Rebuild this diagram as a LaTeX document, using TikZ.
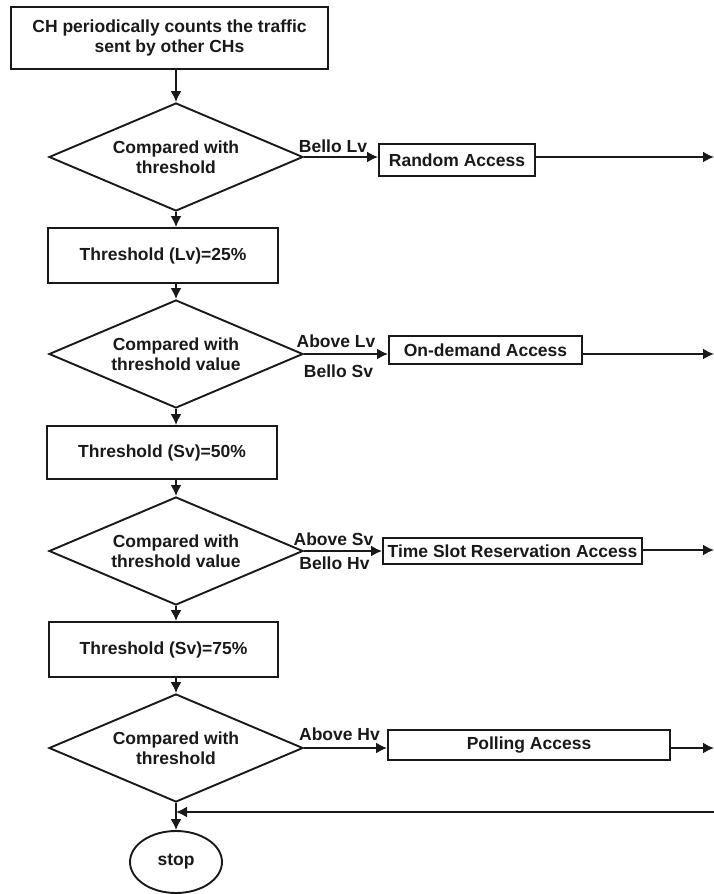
\documentclass[tikz,border=0pt]{standalone}
\usepackage{fontspec}
\setmainfont{Liberation Sans}
\usetikzlibrary{shapes.geometric,arrows.meta}
\begin{document}
\begin{tikzpicture}[x=1pt,y=-1pt,
  every node/.style={font=\bfseries\fontsize{17.5}{20.5}\selectfont, text=black!90},
  conn/.style={draw=black!90, line width=1.9pt},
  arr/.style={conn, -{Latex[length=11pt,width=11pt]}},
  box/.style={draw=black!90, line width=1.9pt, rectangle, inner sep=0pt, align=center},
  decide/.style={draw=black!90, line width=1.9pt, diamond, aspect=2.35,
    minimum width=254pt, minimum height=108pt, inner sep=0pt, align=center},
  term/.style={draw=black!90, line width=1.9pt, ellipse, inner sep=0pt,
    minimum width=92pt, minimum height=62pt},
  lbl/.style={anchor=base, inner sep=0pt}
]
\useasboundingbox (0,0) rectangle (714,894);

% main column
\node[box, minimum width=317pt, minimum height=62pt] (b1) at (169.5,38)
  {CH periodically counts the traffic\\sent by other CHs};
\node[decide] (d1) at (176,157) {Compared with\\threshold};
\node[box, minimum width=230pt, minimum height=55pt] (b2) at (163,255.5) {Threshold (Lv)=25\%};
\node[decide] (d2) at (176,354) {Compared with\\threshold value};
\node[box, minimum width=230pt, minimum height=53pt] (b3) at (162,452.5) {Threshold (Sv)=50\%};
\node[decide] (d3) at (176,551) {Compared with\\threshold value};
\node[box, minimum width=229pt, minimum height=55pt] (b4) at (163.5,649.5) {Threshold (Sv)=75\%};
\node[decide] (d4) at (176,748) {Compared with\\threshold};
\node[term] (stop) at (176,862) {stop};

% access schemes
\node[box, minimum width=156pt, minimum height=32pt] (ra) at (457,160) {Random Access};
\node[box, minimum width=193pt, minimum height=28pt] (od) at (485.5,350) {On-demand Access};
\node[box, minimum width=259pt, minimum height=26pt] (ts) at (512.5,551) {Time Slot Reservation Access};
\node[box, minimum width=282pt, minimum height=30pt] (pa) at (529,745) {Polling Access};

% right-edge ends
\coordinate (e1) at (714,157);
\coordinate (e2) at (714,354);
\coordinate (e3) at (714,550);
\coordinate (e4) at (714,748);
\coordinate (r0) at (714,812);

% vertical flow
\draw[arr] (b1.south -| d1.north) -- (d1.north);
\draw[arr] (d1.south) -- (d1.south |- b2.north);
\draw[arr] (d1.south |- b2.south) -- (d2.north);
\draw[arr] (d2.south) -- (d2.south |- b3.north);
\draw[arr] (d2.south |- b3.south) -- (d3.north);
\draw[arr] (d3.south) -- (d3.south |- b4.north);
\draw[arr] (d3.south |- b4.south) -- (d4.north);
\draw[arr] (d4.south) -- (stop.north);

% branches
\draw[arr] (d1.east) -- (ra.west |- d1.east);
\draw[arr] (d2.east) -- (od.west |- d2.east);
\draw[arr] (d3.east) -- (ts.west |- d3.east);
\draw[arr] (d4.east) -- (pa.west |- d4.east);
\draw[arr] (ra.east |- e1) -- (e1);
\draw[arr] (od.east |- e2) -- (e2);
\draw[arr] (ts.east |- e3) -- (e3);
\draw[arr] (pa.east |- e4) -- (e4);
\draw[arr] (r0) -- (r0 -| d4.south);

% branch labels
\node[lbl] (l1) at (333,152) {Bello Lv};
\node[lbl] (l2a) at (336,347) {Above Lv};
\node[lbl] (l2b) at (338.5,377) {Bello Sv};
\node[lbl] (l3a) at (333.5,545) {Above Sv};
\node[lbl] (l3b) at (334.5,569) {Bello Hv};
\node[lbl] (l4) at (339.5,740) {Above Hv};
\end{tikzpicture}
\end{document}
